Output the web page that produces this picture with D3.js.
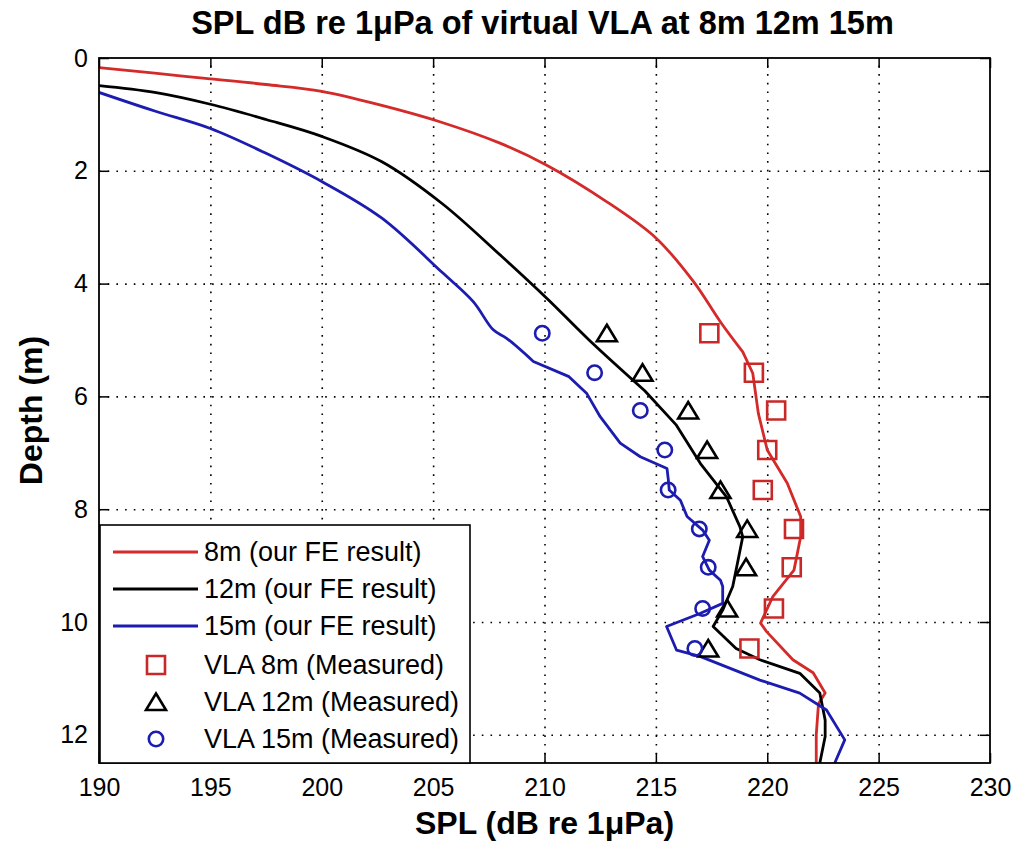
<!DOCTYPE html>
<html lang="en">
<head>
<meta charset="utf-8">
<title>SPL of virtual VLA</title>
<script src="https://cdn.jsdelivr.net/npm/d3@7"></script>
<style>
body { margin: 0; background: #fff; }
text { font-family: "Liberation Sans", Arial, sans-serif; }
</style>
</head>
<body>
<script>
// FE results, each point is [SPL (dB), depth (m)]
var fe8m = [[190, 0.17], [192.5, 0.27], [195, 0.37], [197.5, 0.47], [200, 0.59], [202.7, 0.84],
  [205.3, 1.13], [208.0, 1.51], [210.1, 1.9], [212.8, 2.55], [215.0, 3.19], [216.7, 3.97],
  [217.9, 4.68], [218.9, 5.21], [219.35, 5.59], [219.6, 6.3], [220.0, 6.95], [220.9, 7.54],
  [221.5, 8.13], [221.5, 8.49], [221.2, 9.08], [220.25, 9.55], [219.7, 10.02], [219.97, 10.17],
  [221.15, 10.67], [222.06, 10.9], [222.6, 11.26], [222.3, 11.45], [222.2, 12.0], [222.2, 12.5]];
var fe12m = [[190, 0.49], [192.5, 0.61], [195, 0.82], [197.5, 1.09], [200, 1.39], [202.7, 1.84],
  [205.4, 2.58], [208.0, 3.49], [210.1, 4.26], [212.0, 5.0], [214.5, 5.9], [215.9, 6.5],
  [217.0, 7.19], [218.17, 7.78], [218.77, 8.31], [218.9, 8.49], [218.6, 9.08], [218.45, 9.37],
  [218.0, 9.79], [217.57, 10.08], [218.6, 10.47], [219.67, 10.67], [221.46, 10.91], [222.36, 11.26],
  [222.6, 11.74], [222.6, 12.03], [222.36, 12.5]];
var fe15m = [[190, 0.61], [192.5, 0.94], [195, 1.25], [197.5, 1.69], [200, 2.19], [202.7, 2.84],
  [205.4, 3.8], [206.8, 4.32], [207.7, 4.82], [208.3, 4.97], [209.5, 5.38], [211.1, 5.65],
  [211.9, 5.95], [212.5, 6.36], [213.4, 6.83], [214.3, 7.07], [215.5, 7.28], [215.56, 7.48],
  [215.6, 7.66], [216.1, 7.84], [216.4, 8.13], [217.1, 8.37], [217.4, 8.55], [217.1, 8.84],
  [217.4, 9.08], [217.9, 9.26], [218.0, 9.37], [218.0, 9.67], [216.98, 9.85], [215.48, 10.08],
  [215.93, 10.5], [216.98, 10.61], [219.67, 11.03], [221.46, 11.26], [222.66, 11.56], [223.48, 12.09],
  [223.03, 12.5]];

// measured VLA points
var vlaDepth = [4.88, 5.58, 6.25, 6.95, 7.66, 8.35, 9.03, 9.76, 10.47];
var vla8m = [217.4, 219.4, 220.4, 220.0, 219.8, 221.2, 221.1, 220.3, 219.2];
var vla12m = [212.8, 214.4, 216.45, 217.3, 217.9, 219.1, 219.05, 218.2, 217.35];
var vla15m = [209.9, 212.25, 214.3, 215.4, 215.55, 216.95, 217.35, 217.1, 216.75];

var xTickValues = [190, 195, 200, 205, 210, 215, 220, 225, 230];
var yTickValues = [0, 2, 4, 6, 8, 10, 12];

var legendLabels = ["8m (our FE result)", "12m (our FE result)", "15m (our FE result)",
  "VLA 8m (Measured)", "VLA 12m (Measured)", "VLA 15m (Measured)"];

var w = 1018, h = 841;
var pLeft = 99, pRight = 990, pTop = 58, pBottom = 763;
var red = "#d42a2a", blue = "#1c1cb0", black = "#000";

var svg = d3.select("body").append("svg")
  .attr("width", w)
  .attr("height", h);

var xScale = d3.scaleLinear().domain([190, 230]).range([pLeft, pRight]);
var yScale = d3.scaleLinear().domain([0, 12.5]).range([pTop, pBottom]);

svg.append("rect")
  .attr("x", pLeft).attr("y", pTop)
  .attr("width", pRight - pLeft).attr("height", pBottom - pTop)
  .attr("fill", "#fff");

// dotted grid
var gx = svg.append("g")
  .attr("transform", "translate(0," + pBottom + ")")
  .call(d3.axisBottom(xScale).tickValues(xTickValues.slice(1, -1)).tickSize(-(pBottom - pTop)).tickFormat(""));
var gy = svg.append("g")
  .attr("transform", "translate(" + pLeft + ",0)")
  .call(d3.axisLeft(yScale).tickValues(yTickValues.slice(1)).tickSize(-(pRight - pLeft)).tickFormat(""));
[gx, gy].forEach(function (g) {
  g.select(".domain").remove();
  g.selectAll("line")
    .attr("stroke", "#000")
    .attr("stroke-width", 1.6)
    .attr("stroke-dasharray", "1.6,7.1");
});

svg.append("clipPath").attr("id", "plot")
  .append("rect")
  .attr("x", pLeft).attr("y", pTop)
  .attr("width", pRight - pLeft).attr("height", pBottom - pTop);

// smooth upper part, straight segments below (as the FE output looks)
var smoothLine = d3.line()
  .curve(d3.curveCatmullRom.alpha(0.5))
  .x(function (d) { return xScale(d[0]); })
  .y(function (d) { return yScale(d[1]); });
var straightLine = d3.line()
  .x(function (d) { return xScale(d[0]); })
  .y(function (d) { return yScale(d[1]); });
function fePath(data) {
  var k = data.findIndex(function (d) { return d[1] > 5.0; });
  return smoothLine(data.slice(0, k + 1)) + straightLine(data.slice(k));
}

var curves = [[fe8m, red], [fe12m, black], [fe15m, blue]];
var plotG = svg.append("g").attr("clip-path", "url(#plot)");
plotG.selectAll("path.fe")
  .data(curves)
  .enter()
  .append("path")
  .attr("class", "fe")
  .attr("d", function (d) { return fePath(d[0]); })
  .attr("fill", "none")
  .attr("stroke", function (d) { return d[1]; })
  .attr("stroke-width", 2.8)
  .attr("stroke-linejoin", "round")
  .attr("stroke-linecap", "round");

// marker shapes
var square = "M-9,-9H9V9H-9Z";
var triangle = "M0,-8.5L10,8L-10,8Z";
function drawMarkers(g, xs, shape, colour) {
  g.selectAll(null)
    .data(xs)
    .enter()
    .append(shape === "circle" ? "circle" : "path")
    .each(function (d, i) {
      var el = d3.select(this);
      var cx = xScale(d), cy = yScale(vlaDepth[i]);
      if (shape === "circle") {
        el.attr("cx", cx).attr("cy", cy).attr("r", 7.2);
      } else {
        el.attr("d", shape).attr("transform", "translate(" + cx + "," + cy + ")");
      }
    })
    .attr("fill", "none")
    .attr("stroke", colour)
    .attr("stroke-width", 2.6);
}
drawMarkers(plotG, vla8m, square, "#c82828");
drawMarkers(plotG, vla12m, triangle, black);
drawMarkers(plotG, vla15m, "circle", blue);

// axes: labels bottom/left, inward ticks on all four sides
var xAxis = svg.append("g")
  .attr("transform", "translate(0," + pBottom + ")")
  .call(d3.axisBottom(xScale).tickValues(xTickValues).tickSize(-10).tickPadding(15));
var yAxis = svg.append("g")
  .attr("transform", "translate(" + pLeft + ",0)")
  .call(d3.axisLeft(yScale).tickValues(yTickValues).tickSize(-10).tickPadding(11));
var topAxis = svg.append("g")
  .attr("transform", "translate(0," + pTop + ")")
  .call(d3.axisTop(xScale).tickValues(xTickValues).tickSize(-10).tickFormat(""));
var rightAxis = svg.append("g")
  .attr("transform", "translate(" + pRight + ",0)")
  .call(d3.axisRight(yScale).tickValues(yTickValues).tickSize(-10).tickFormat(""));
[xAxis, yAxis, topAxis, rightAxis].forEach(function (g) {
  g.select(".domain").remove();
  g.selectAll("line").attr("stroke", "#000").attr("stroke-width", 1.5);
  g.selectAll("text")
    .attr("fill", "#000")
    .style("font-size", "25px")
    .style("font-family", "'Liberation Sans', Arial, sans-serif");
});

// box
svg.append("rect")
  .attr("x", pLeft).attr("y", pTop)
  .attr("width", pRight - pLeft).attr("height", pBottom - pTop)
  .attr("fill", "none")
  .attr("stroke", "#000")
  .attr("stroke-width", 1.8);

// legend
var lg = svg.append("g");
lg.append("rect")
  .attr("x", 100).attr("y", 525)
  .attr("width", 370).attr("height", pBottom - 525)
  .attr("fill", "#fff")
  .attr("stroke", "#000")
  .attr("stroke-width", 1.6);
var rowY = [552, 589, 626, 665, 702, 739];
var legendItems = [
  {kind: "line", colour: red}, {kind: "line", colour: black}, {kind: "line", colour: blue},
  {kind: square, colour: "#c82828"}, {kind: triangle, colour: black}, {kind: "circle", colour: blue}
];
legendItems.forEach(function (it, i) {
  var y = rowY[i];
  if (it.kind === "line") {
    lg.append("line").attr("x1", 113).attr("x2", 198).attr("y1", y).attr("y2", y)
      .attr("stroke", it.colour).attr("stroke-width", 2.8);
  } else if (it.kind === "circle") {
    lg.append("circle").attr("cx", 156).attr("cy", y).attr("r", 7.2)
      .attr("fill", "none").attr("stroke", it.colour).attr("stroke-width", 2.6);
  } else {
    lg.append("path").attr("d", it.kind).attr("transform", "translate(156," + y + ")")
      .attr("fill", "none").attr("stroke", it.colour).attr("stroke-width", 2.6);
  }
  lg.append("text")
    .attr("x", 204).attr("y", y)
    .attr("dy", "0.35em")
    .style("font-size", "27px")
    .text(legendLabels[i]);
});

// titles
svg.append("text")
  .attr("x", (pLeft + pRight) / 2 - 2).attr("y", 34)
  .attr("text-anchor", "middle")
  .style("font-size", "32.5px").style("font-weight", "bold")
  .text("SPL dB re 1\u03bcPa of virtual VLA at 8m 12m 15m");
svg.append("text")
  .attr("x", (pLeft + pRight) / 2).attr("y", 834)
  .attr("text-anchor", "middle")
  .style("font-size", "32px").style("font-weight", "bold")
  .text("SPL (dB re 1\u03bcPa)");
svg.append("text")
  .attr("transform", "translate(42," + (pTop + pBottom) / 2 + ") rotate(-90)")
  .attr("text-anchor", "middle")
  .style("font-size", "32px").style("font-weight", "bold")
  .text("Depth (m)");
</script>
</body>
</html>
